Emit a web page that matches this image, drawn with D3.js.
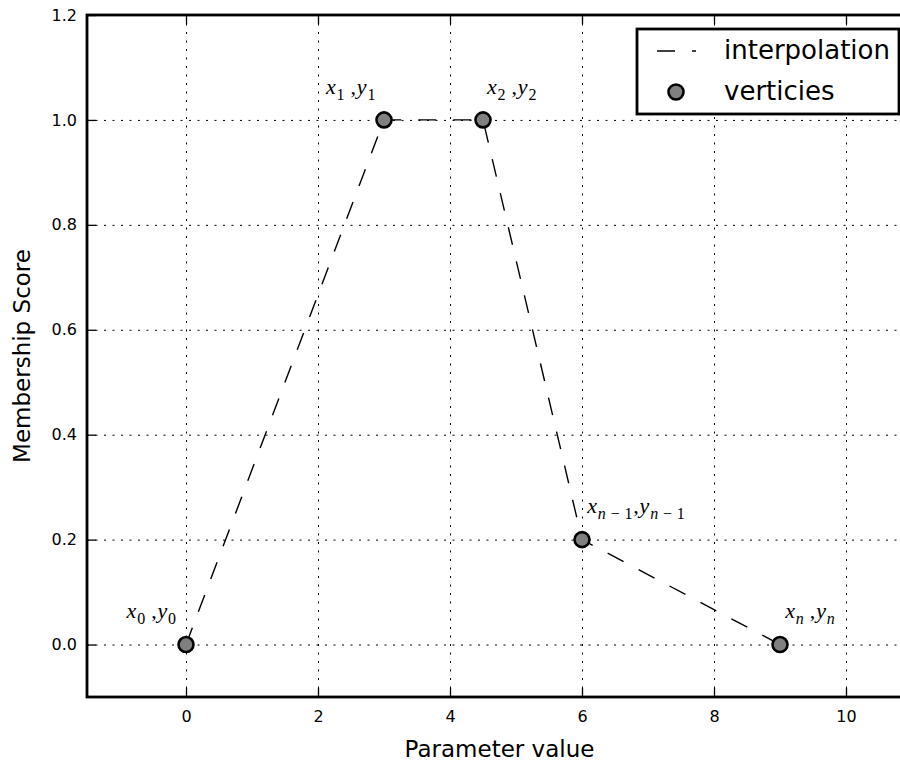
<!DOCTYPE html>
<html>
<head>
<meta charset="utf-8">
<script src="https://cdnjs.cloudflare.com/ajax/libs/d3/7.8.5/d3.min.js"></script>
<style>
  body { margin: 0; background: #fff; }
  svg { display: block; overflow: hidden; font-family: "DejaVu Sans", sans-serif; }
  .tick line { stroke: #000; }
</style>
</head>
<body>
<svg width="900" height="764"></svg>
<script>
// vertices of the membership function
var xs = [0, 3, 4.5, 6, 9];
var ys = [0, 1, 1, 0.2, 0];
// vertex labels: subscripts and label anchors (data units)
var subs = ["0", "1", "2", "n\u2009\u2212\u20091", "n"];
var labelX = [-0.9, 2.12, 4.56, 6.08, 9.08];
var labelY = [0.05, 1.05, 1.05, 0.25, 0.05];
var xTicks = [0, 2, 4, 6, 8, 10];
var yTicks = [0.0, 0.2, 0.4, 0.6, 0.8, 1.0, 1.2];
var xDomain = [-1.5, 11];
var yDomain = [-0.1, 1.2];
var legendItems = ["interpolation", "verticies"];

var svg = d3.select("svg");
var margin = {left: 87, top: 15, right: -12, bottom: 67};
var width = 900 - margin.left - margin.right,
  height = 764 - margin.top - margin.bottom;

var x = d3.scaleLinear().domain(xDomain).range([0, width]);
var y = d3.scaleLinear().domain(yDomain).range([height, 0]);

var g = svg.append("g").attr("transform", "translate(" + margin.left + "," + margin.top + ")");

// grid
g.append("g")
  .attr("transform", "translate(0," + height + ")")
  .call(d3.axisBottom(x).tickValues(xTicks).tickSize(-height).tickFormat(""))
  .call(function(s) {
    s.select(".domain").remove();
    s.selectAll("line").attr("stroke-dasharray", "2,6.5").attr("stroke-width", 1);
  });
g.append("g")
  .call(d3.axisLeft(y).tickValues(yTicks).tickSize(-width).tickFormat(""))
  .call(function(s) {
    s.select(".domain").remove();
    s.selectAll("line").attr("stroke-dasharray", "2,6.5").attr("stroke-width", 1);
  });

// axes, ticks pointing inward
var axB = g.append("g")
  .attr("transform", "translate(0," + height + ")")
  .call(d3.axisBottom(x).tickValues(xTicks).tickSizeInner(-9).tickSizeOuter(0).tickPadding(14).tickFormat(d3.format("d")));
var axT = g.append("g")
  .call(d3.axisTop(x).tickValues(xTicks).tickSizeInner(-9).tickSizeOuter(0).tickFormat(""));
var axL = g.append("g")
  .call(d3.axisLeft(y).tickValues(yTicks).tickSizeInner(-9).tickSizeOuter(0).tickPadding(10).tickFormat(d3.format(".1f")));
var axR = g.append("g")
  .attr("transform", "translate(" + width + ",0)")
  .call(d3.axisRight(y).tickValues(yTicks).tickSizeInner(-9).tickSizeOuter(0).tickFormat(""));

[axB, axT, axL, axR].forEach(function(a) {
  a.select(".domain").remove();
  a.selectAll(".tick line").attr("stroke-width", 1.3);
  a.attr("font-size", 16).attr("font-family", "DejaVu Sans, sans-serif");
  a.selectAll(".tick text").attr("fill", "#000");
});

// frame
g.append("rect")
  .attr("width", width).attr("height", height)
  .attr("fill", "none").attr("stroke", "#000").attr("stroke-width", 2.8);

// interpolation line
var pts = xs.map(function(d, i) { return [d, ys[i]]; });
var line = d3.line().x(function(d) { return x(d[0]); }).y(function(d) { return y(d[1]); });
g.append("path")
  .datum(pts)
  .attr("d", line)
  .attr("fill", "none")
  .attr("stroke", "#000")
  .attr("stroke-width", 1.4)
  .attr("stroke-dasharray", "18,17");

// vertices
g.selectAll("circle.v")
  .data(pts)
  .enter().append("circle")
  .attr("class", "v")
  .attr("cx", function(d) { return x(d[0]); })
  .attr("cy", function(d) { return y(d[1]); })
  .attr("r", 7.5)
  .attr("fill", "#808080")
  .attr("stroke", "#000")
  .attr("stroke-width", 2.6);

// vertex labels  x_i , y_i
function subscript(t, s) {
  // digits and minus upright, n italic
  var parts = s.match(/n|[^n]+/g);
  parts.forEach(function(p, k) {
    var ts = t.append("tspan").attr("font-size", 16).text(p)
      .attr("font-style", p == "n" ? "italic" : "normal");
    if (k == 0) ts.attr("dy", 6);
  });
}
subs.forEach(function(s, i) {
  var t = g.append("text")
    .attr("x", x(labelX[i]))
    .attr("y", y(labelY[i]))
    .style("font-family", "'Liberation Serif', 'DejaVu Serif', serif")
    .style("letter-spacing", "0.8px")
    .attr("font-size", 22)
    .attr("fill", "#000");
  t.append("tspan").attr("font-style", "italic").text("x");
  subscript(t, s);
  t.append("tspan").attr("font-style", "normal").attr("dy", -6).text(s.length > 1 ? "," : "\u2009,");
  t.append("tspan").attr("font-style", "italic").text("y");
  subscript(t, s);
});

// axis titles
svg.append("text")
  .attr("x", margin.left + width / 2)
  .attr("y", 757)
  .attr("text-anchor", "middle")
  .attr("font-size", 23)
  .text("Parameter value");
svg.append("text")
  .attr("transform", "translate(30," + (margin.top + height / 2) + ") rotate(-90)")
  .attr("text-anchor", "middle")
  .attr("font-size", 23)
  .text("Membership Score");

// legend
var lg = svg.append("g").attr("transform", "translate(637,29)");
lg.append("rect")
  .attr("width", 262).attr("height", 85)
  .attr("fill", "#fff").attr("stroke", "#000").attr("stroke-width", 2.8);
lg.append("line")
  .attr("x1", 20).attr("x2", 59).attr("y1", 22).attr("y2", 22)
  .attr("stroke", "#000").attr("stroke-width", 1.4)
  .attr("stroke-dasharray", "18,17");
lg.append("circle")
  .attr("cx", 39).attr("cy", 63).attr("r", 7.5)
  .attr("fill", "#808080").attr("stroke", "#000").attr("stroke-width", 2.6);
lg.selectAll("text.lt")
  .data(legendItems)
  .enter().append("text")
  .attr("class", "lt")
  .attr("x", 87)
  .attr("y", function(d, i) { return 30 + i * 41; })
  .attr("font-size", 26)
  .text(function(d) { return d; });
</script>
</body>
</html>
